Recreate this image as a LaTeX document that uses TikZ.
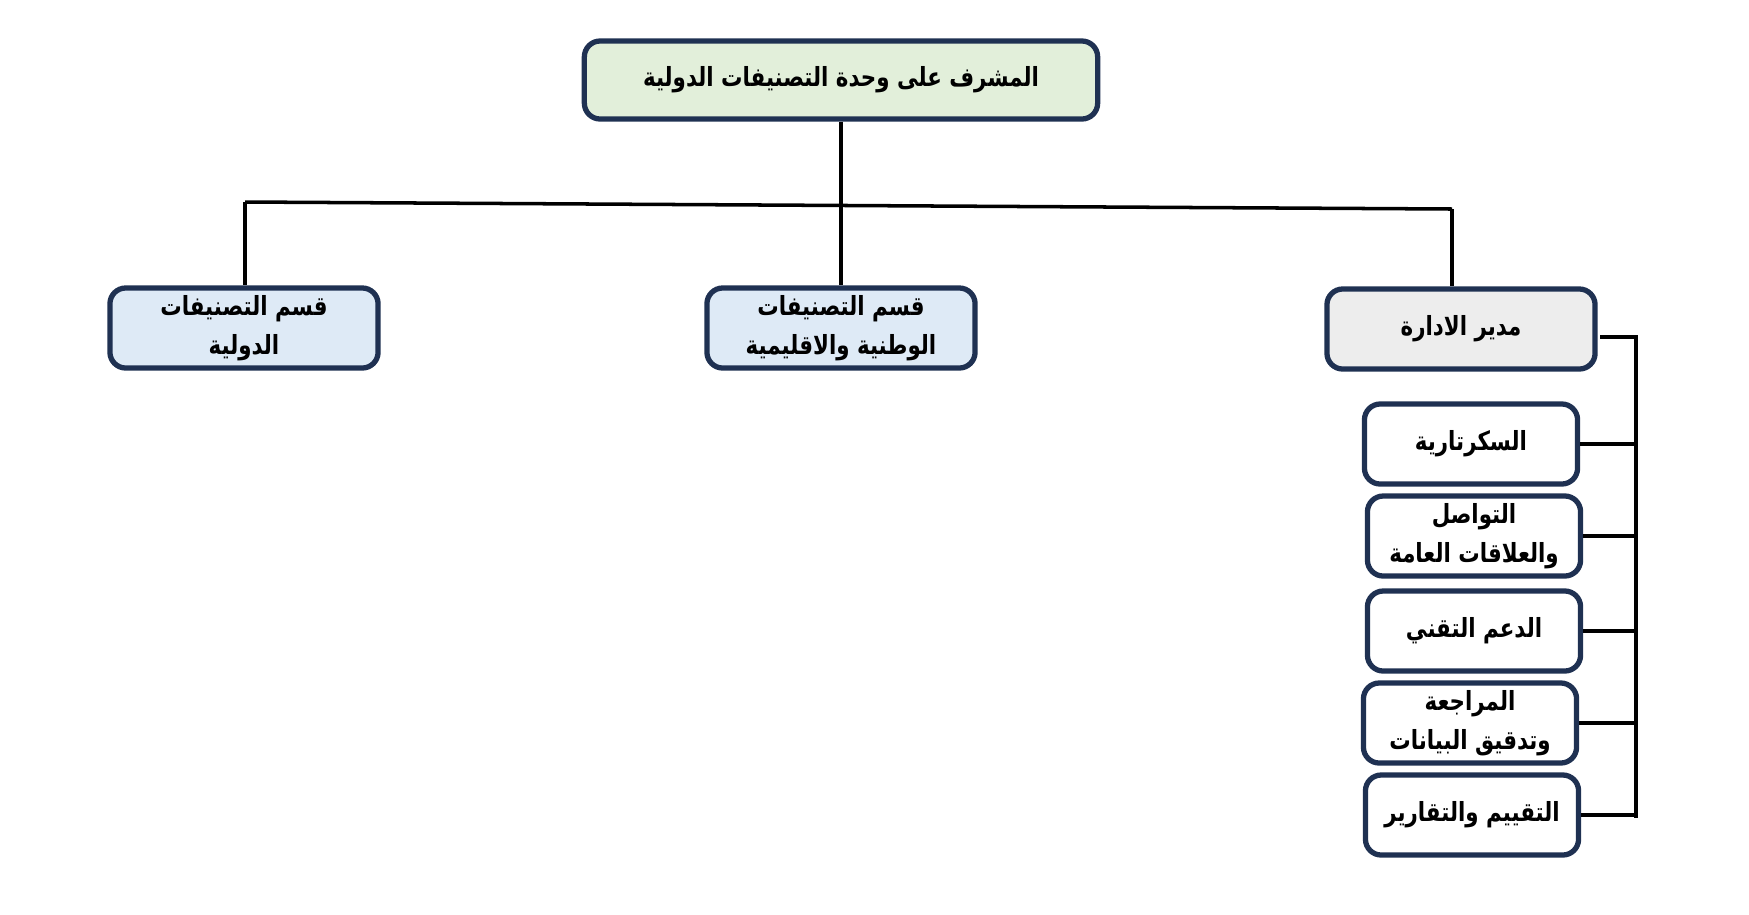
\documentclass[tikz,border=0pt]{standalone}
\usepackage{fontspec}
\usetikzlibrary{positioning}
\TeXXeTstate=1
\newfontfamily\arabicfont[Script=Arabic, FakeStretch=0.81]{DejaVu Sans}
\newcommand{\artxt}[1]{{\arabicfont\bfseries\beginR #1\endR}}
\definecolor{navyc}{HTML}{1F3152}
\definecolor{greenc}{HTML}{E2EFDA}
\definecolor{bluec}{HTML}{DEEAF6}
\definecolor{grayc}{HTML}{EDEDED}
\begin{document}
\begin{tikzpicture}[x=0.01cm, y=-0.01cm, font=\fontsize{7.5}{11}\selectfont,
          bx/.style={rectangle, rounded corners=4.5pt, draw=navyc, line width=1.5pt, align=center, inner sep=2pt},
          top/.style={bx, fill=greenc, minimum width=5.13cm, minimum height=0.78cm},
          sec/.style={bx, fill=bluec, minimum width=2.68cm, minimum height=0.8cm},
          adm/.style={bx, fill=grayc, minimum width=2.68cm, minimum height=0.8cm},
          sub/.style={bx, fill=white, minimum width=2.13cm, minimum height=0.8cm},
          ln/.style={line width=1pt}]
        \useasboundingbox (0,0) rectangle (1749,914);
        \node[top] (sup) at (841,80) {\artxt{المشرف على وحدة التصنيفات الدولية}};
        \node[sec] (intl) at (244,328) {\artxt{قسم التصنيفات}\\\artxt{الدولية}};
        \node[sec] (natl) at (841,328) {\artxt{قسم التصنيفات}\\\artxt{الوطنية والاقليمية}};
        \node[adm] (adm) at (1461,329) {\artxt{مدير الادارة}};
        \coordinate (bl) at (245,202); \coordinate (br) at (1452,209);
        \draw[ln] (sup) -- (natl); \draw[ln] (bl) -- (br);
        \draw[ln] (bl) -- (bl |- intl.north); \draw[ln] (br) -- (br |- adm.north);
        \coordinate (ba) at (1600,337); \coordinate (bb) at (1636,337); \coordinate (be) at (1636,818);
        \draw[ln] (ba) -- (bb) -- (be);
        \foreach \i/\x/\y/\t in {1/1471/444/{\artxt{السكرتارية}},
                                 2/1474/536/{\artxt{التواصل}\\\artxt{والعلاقات العامة}},
                                 3/1474/631/{\artxt{الدعم التقني}},
                                 4/1470/723/{\artxt{المراجعة}\\\artxt{وتدقيق البيانات}},
                                 5/1472/815/{\artxt{التقييم والتقارير}}}{
          \node[sub] (s\i) at (\x,\y) {\t};
          \draw[ln] (s\i.east) -- (s\i.east -| bb); }
      \end{tikzpicture}
\end{document}
